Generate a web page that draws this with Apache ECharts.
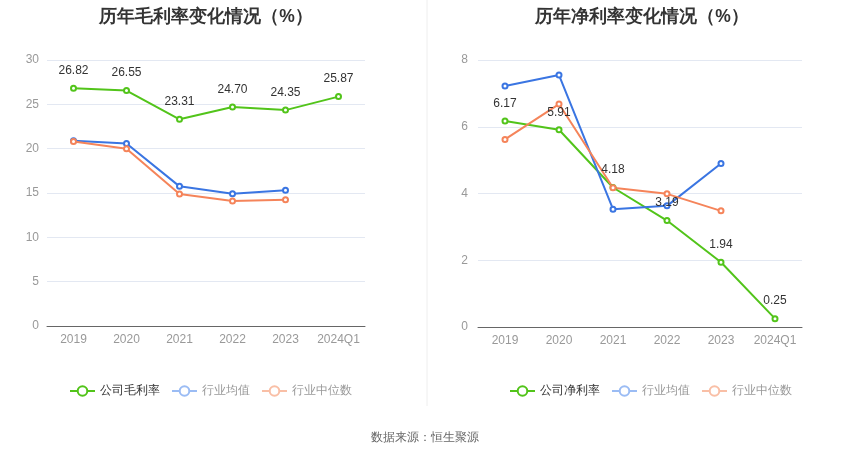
<!DOCTYPE html>
<html>
<head>
<meta charset="utf-8">
<script src="https://cdn.jsdelivr.net/npm/echarts@6/dist/echarts.min.js"></script>
<style>
  html, body { margin: 0; padding: 0; background: #fff; }
  #main { width: 850px; height: 459px; }
</style>
</head>
<body>
<div id="main"></div>
<script>
var years = ['2019', '2020', '2021', '2022', '2023', '2024Q1'];

// 毛利率
var grossCompany = [26.82, 26.55, 23.31, 24.70, 24.35, 25.87];
var grossAvg = [20.89, 20.59, 15.75, 14.92, 15.30];
var grossMedian = [20.81, 19.99, 14.89, 14.10, 14.25];

// 净利率
var netCompany = [6.17, 5.91, 4.18, 3.19, 1.94, 0.25];
var netAvg = [7.22, 7.55, 3.53, 3.63, 4.90];
var netMedian = [5.62, 6.68, 4.17, 3.99, 3.48];

var GREEN = '#52c41a';
var BLUE = '#3a75e2';
var ORANGE = '#f5845a';

var chart = echarts.init(document.getElementById('main'));

function lineSeries(name, data, color, idx, withLabel) {
  return {
    name: name,
    type: 'line',
    xAxisIndex: idx,
    yAxisIndex: idx,
    data: data,
    symbol: 'emptyCircle',
    symbolSize: 5,
    color: color,
    lineStyle: { width: 2, color: color },
    itemStyle: { color: color, borderWidth: 2 },
    label: withLabel ? {
      show: true,
      position: 'top',
      distance: 8,
      color: '#333',
      fontSize: 12,
      formatter: function (p) { return p.value.toFixed(2); }
    } : { show: false },
    animation: false
  };
}

function xAxis(idx) {
  return {
    type: 'category',
    gridIndex: idx,
    data: years,
    boundaryGap: true,
    axisLine: { lineStyle: { color: '#666' } },
    axisTick: { alignWithLabel: true, lineStyle: { color: '#666' } },
    axisLabel: { color: '#999', fontSize: 12, margin: 8, interval: 0 }
  };
}

function yAxis(idx, max, interval, margin) {
  return {
    type: 'value',
    gridIndex: idx,
    min: 0,
    max: max,
    interval: interval,
    axisLine: { show: false },
    axisTick: { show: false },
    axisLabel: { color: '#999', fontSize: 12, margin: margin },
    splitLine: { lineStyle: { color: '#e3e8f2' } }
  };
}

function legendData(first) {
  return [
    { name: first, textStyle: { color: '#333' } },
    { name: '行业均值', textStyle: { color: '#999' }, itemStyle: { color: '#9bbcf4', borderColor: '#9bbcf4' }, lineStyle: { color: '#9bbcf4' } },
    { name: '行业中位数', textStyle: { color: '#999' }, itemStyle: { color: '#f9bfa6', borderColor: '#f9bfa6' }, lineStyle: { color: '#f9bfa6' } }
  ];
}

var option = {
  backgroundColor: '#fff',
  title: [
    { text: '历年毛利率变化情况（%）', left: 201, top: 3, textAlign: 'center',
      textStyle: { fontSize: 17.5, fontWeight: 'bold', color: '#333' } },
    { text: '历年净利率变化情况（%）', left: 637, top: 3, textAlign: 'center',
      textStyle: { fontSize: 17.5, fontWeight: 'bold', color: '#333' } }
  ],
  legend: [
    { data: legendData('公司毛利率'), left: 64, top: 380, itemWidth: 25, itemHeight: 12, itemGap: 11,
      textStyle: { fontSize: 12 } },
    { data: legendData('公司净利率'), left: 504, top: 380, itemWidth: 25, itemHeight: 12, itemGap: 11,
      textStyle: { fontSize: 12 } }
  ],
  grid: [
    { left: 47, right: 485, top: 60, bottom: 133 },
    { left: 478, right: 48, top: 60, bottom: 132 }
  ],
  xAxis: [xAxis(0), xAxis(1)],
  yAxis: [yAxis(0, 30, 5, 8), yAxis(1, 8, 2, 10)],
  series: [
    lineSeries('公司毛利率', grossCompany, GREEN, 0, true),
    lineSeries('行业均值', grossAvg, BLUE, 0, false),
    lineSeries('行业中位数', grossMedian, ORANGE, 0, false),
    lineSeries('公司净利率', netCompany, GREEN, 1, true),
    lineSeries('行业均值', netAvg, BLUE, 1, false),
    lineSeries('行业中位数', netMedian, ORANGE, 1, false)
  ],
  graphic: [
    { type: 'line', shape: { x1: 427, y1: 0, x2: 427, y2: 406 },
      style: { stroke: '#eeeeee', lineWidth: 1 } },
    { type: 'text', left: 'center', top: 432,
      style: { text: '数据来源：恒生聚源', fill: '#666', fontSize: 12 } }
  ],
  animation: false
};

chart.setOption(option);
</script>
</body>
</html>
